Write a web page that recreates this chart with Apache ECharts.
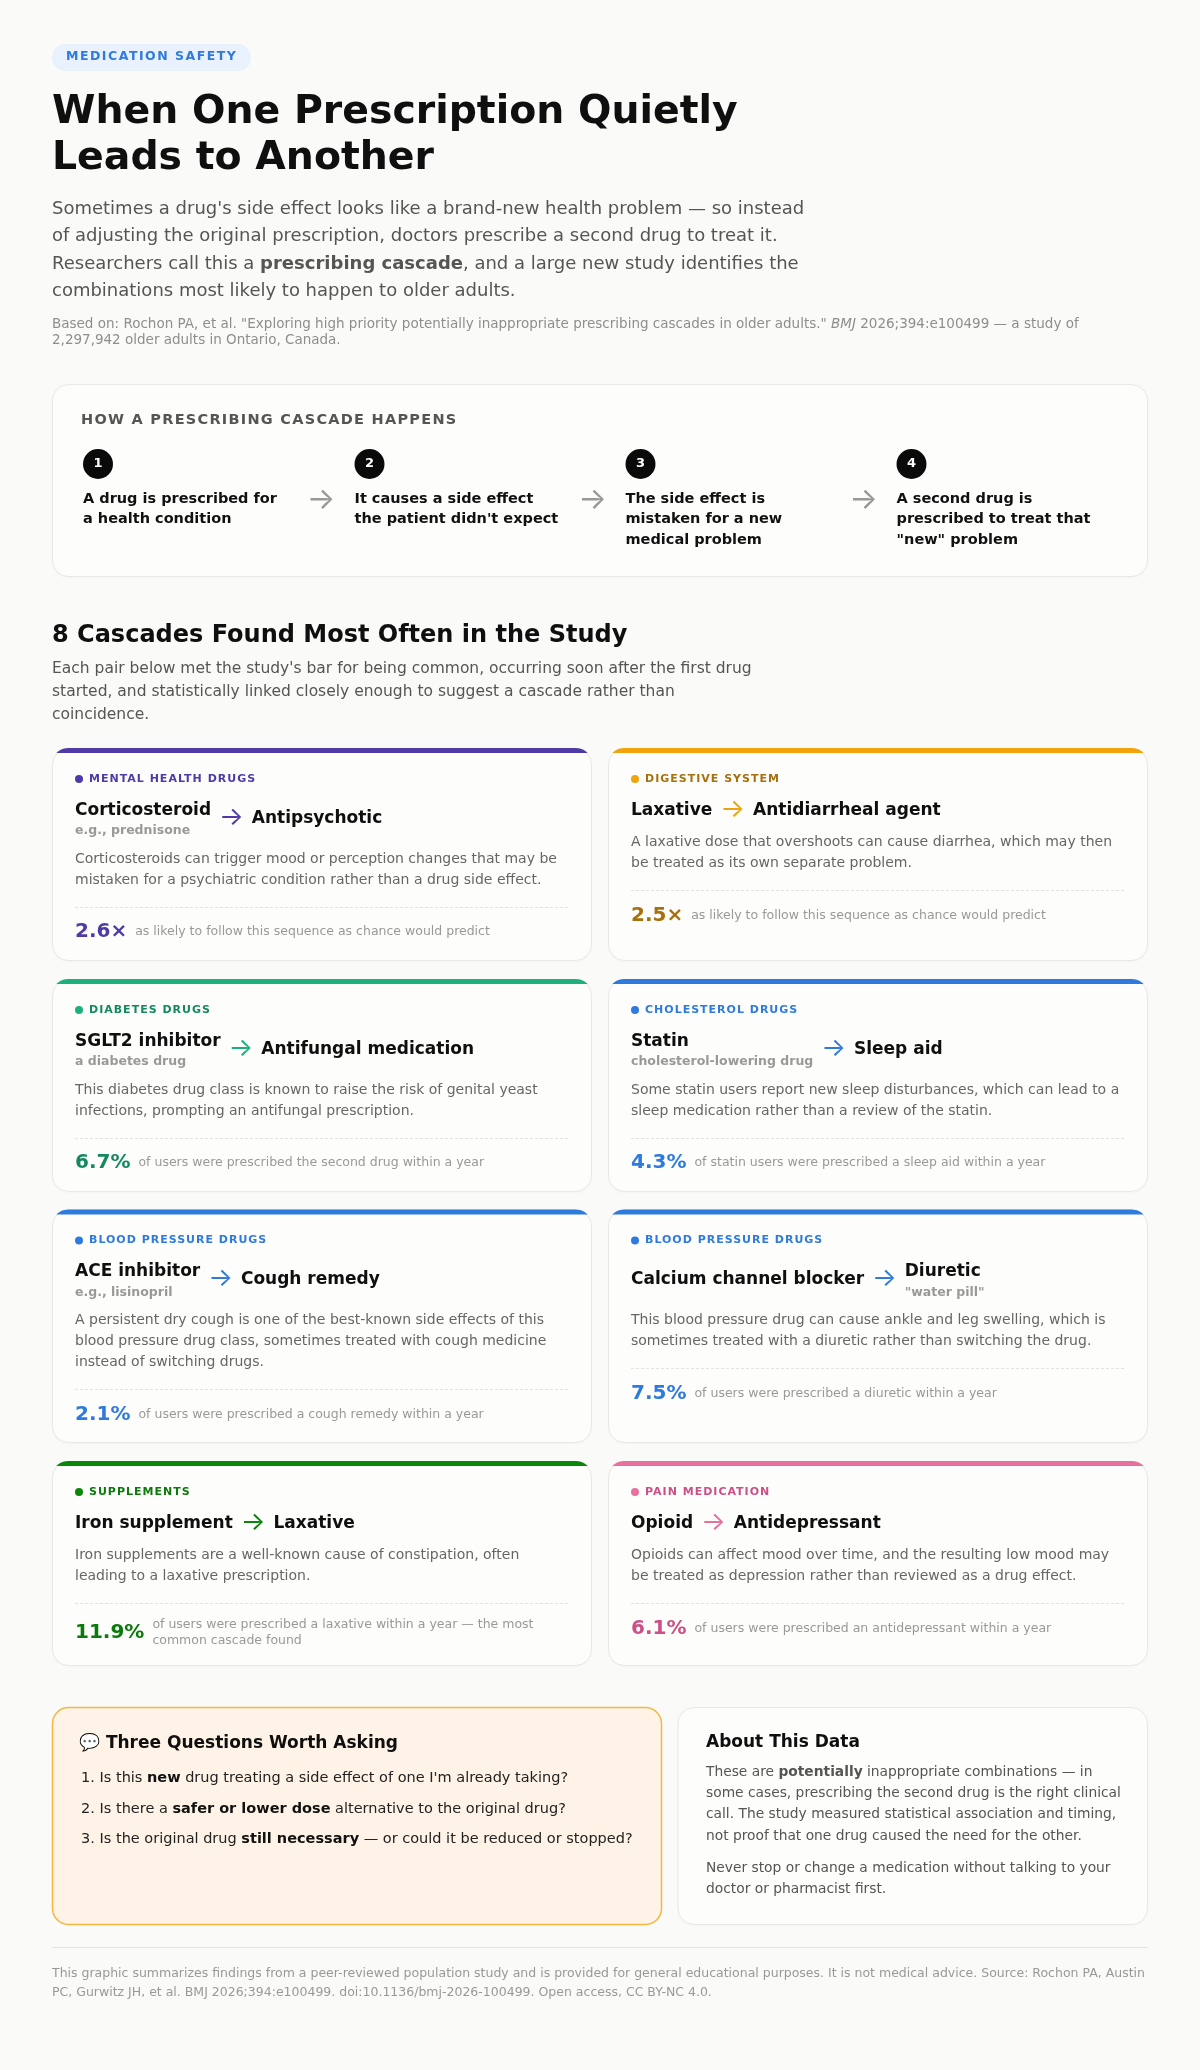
<!DOCTYPE html>
<html><head><meta charset="utf-8">
<style>html,body{margin:0;padding:0;background:#fafaf8}#c{width:1200px;height:2070px}</style>
<script src="https://cdn.jsdelivr.net/npm/echarts@6/dist/echarts.min.js"></script>
</head><body><div id="c"></div>
<script>
const categories=['MENTAL HEALTH DRUGS','DIGESTIVE SYSTEM','DIABETES DRUGS','CHOLESTEROL DRUGS','BLOOD PRESSURE DRUGS','BLOOD PRESSURE DRUGS','SUPPLEMENTS','PAIN MEDICATION'];
const firstDrugs=['Corticosteroid','Laxative','SGLT2 inhibitor','Statin','ACE inhibitor','Calcium channel blocker','Iron supplement','Opioid'];
const firstNotes=['e.g., prednisone','','a diabetes drug','cholesterol-lowering drug','e.g., lisinopril','','',''];
const secondDrugs=['Antipsychotic','Antidiarrheal agent','Antifungal medication','Sleep aid','Cough remedy','Diuretic','Laxative','Antidepressant'];
const secondNotes=['','','','','','"water pill"','',''];
const descriptions=[
'Corticosteroids can trigger mood or perception changes that may be\nmistaken for a psychiatric condition rather than a drug side effect.',
'A laxative dose that overshoots can cause diarrhea, which may then\nbe treated as its own separate problem.',
'This diabetes drug class is known to raise the risk of genital yeast\ninfections, prompting an antifungal prescription.',
'Some statin users report new sleep disturbances, which can lead to a\nsleep medication rather than a review of the statin.',
'A persistent dry cough is one of the best-known side effects of this\nblood pressure drug class, sometimes treated with cough medicine\ninstead of switching drugs.',
'This blood pressure drug can cause ankle and leg swelling, which is\nsometimes treated with a diuretic rather than switching the drug.',
'Iron supplements are a well-known cause of constipation, often\nleading to a laxative prescription.',
'Opioids can affect mood over time, and the resulting low mood may\nbe treated as depression rather than reviewed as a drug effect.'];
const statValues=[2.6,2.5,6.7,4.3,2.1,7.5,11.9,6.1];
const statUnits=['×','×','%','%','%','%','%','%'];
const statLabels=['as likely to follow this sequence as chance would predict','as likely to follow this sequence as chance would predict','of users were prescribed the second drug within a year','of statin users were prescribed a sleep aid within a year','of users were prescribed a cough remedy within a year','of users were prescribed a diuretic within a year','of users were prescribed a laxative within a year — the most\ncommon cascade found','of users were prescribed an antidepressant within a year'];
const accentColors=['#4f3aa8','#f0a30a','#1db07c','#2f7bdd','#2f7bdd','#2f7bdd','#0a860a','#e8709f'];
const labelColors=['#4f3aa8','#a8700c','#14895f','#2f7bdd','#2f7bdd','#2f7bdd','#0a7a0a','#cc4f86'];
const stepTexts=['A drug is prescribed for\na health condition',"It causes a side effect\nthe patient didn't expect",'The side effect is\nmistaken for a new\nmedical problem','A second drug is\nprescribed to treat that\n"new" problem'];
const leadText="Sometimes a drug's side effect looks like a brand-new health problem — so instead\nof adjusting the original prescription, doctors prescribe a second drug to treat it.\nResearchers call this a {b|prescribing cascade}, and a large new study identifies the\ncombinations most likely to happen to older adults.";
const sourceText='Based on: Rochon PA, et al. "Exploring high priority potentially inappropriate prescribing cascades in older adults." {i|BMJ} 2026;394:e100499 — a study of\n2,297,942 older adults in Ontario, Canada.';
const sectionSub="Each pair below met the study's bar for being common, occurring soon after the first drug\nstarted, and statistically linked closely enough to suggest a cascade rather than\ncoincidence.";
const questions=["Is this {b|new} drug treating a side effect of one I'm already taking?",'Is there a {b|safer or lower dose} alternative to the original drug?','Is the original drug {b|still necessary} — or could it be reduced or stopped?'];
const aboutText='These are {b|potentially} inappropriate combinations — in\nsome cases, prescribing the second drug is the right clinical\ncall. The study measured statistical association and timing,\nnot proof that one drug caused the need for the other.';
const aboutText2='Never stop or change a medication without talking to your\ndoctor or pharmacist first.';
const footerText='This graphic summarizes findings from a peer-reviewed population study and is provided for general educational purposes. It is not medical advice. Source: Rochon PA, Austin\nPC, Gurwitz JH, et al. BMJ 2026;394:e100499. doi:10.1136/bmj-2026-100499. Open access, CC BY-NC 4.0.';

const FF='"DejaVu Sans"';
const spaced={'MEDICATION SAFETY':'1.5px','HOW A PRESCRIBING CASCADE HAPPENS':'1.26px'};
categories.forEach(c=>spaced[c]='1px');
const _ft=CanvasRenderingContext2D.prototype.fillText;
CanvasRenderingContext2D.prototype.fillText=function(t,x,y,m){
  if(spaced[t]){this.letterSpacing=spaced[t];_ft.call(this,t,x,y);this.letterSpacing='0px';}
  else if(m===undefined)_ft.call(this,t,x,y);else _ft.call(this,t,x,y,m);
};
const mctx=document.createElement('canvas').getContext('2d');
const W=(t,size,weight)=>{mctx.font=(weight||'normal')+' '+size+'px '+FF;return mctx.measureText(t).width;};

const els=[];
function T(x,y,text,size,weight,fill,extra){
  els.push({type:'text',x,y,silent:true,style:Object.assign({text,fontSize:size,fontWeight:weight||'normal',fontFamily:FF,fill,align:'left',verticalAlign:'middle'},extra||{})});
}
function P(x,y,text,size,weight,fill,lh,rich){
  const st={text,fontSize:size,fontWeight:weight||'normal',fontFamily:FF,fill,align:'left',verticalAlign:'top',lineHeight:lh};
  if(rich)st.rich=rich;
  els.push({type:'text',x,y:y-lh/2,silent:true,style:st});
}
function arrow(cx,cy,size,fill){
  els.push({type:'text',silent:true,x:cx,y:cy,style:{text:'→',fontSize:size,fontFamily:'Inter',fill,align:'center',verticalAlign:'middle'}});
}
function card(x,y,w,h,fill,stroke,lw,shadow){
  const s={fill,stroke,lineWidth:lw||1};
  if(shadow){s.shadowBlur=3;s.shadowColor='rgba(0,0,0,0.025)';s.shadowOffsetY=1;}
  els.push({type:'rect',silent:true,shape:{x:x+.5,y:y+.5,width:w-1,height:h-1,r:16},style:s});
}
// header
els.push({type:'rect',silent:true,shape:{x:52,y:44,width:199,height:27,r:13.5},style:{fill:'#e8f1fc'}});
T(66,57,'MEDICATION SAFETY',12.5,'bold','#2f7bdd');
P(52,113,'When One Prescription Quietly\nLeads to Another',39.4,'bold','#0f0f0f',46);
P(52,209,leadText,18,'normal','#555552',27.6,{b:{fontSize:18,fontWeight:'bold',fontFamily:FF,fill:'#555552'}});
P(52,324,sourceText,13.5,'normal','#8e8e8a',16,{i:{fontSize:13.5,fontStyle:'italic',fontFamily:FF,fill:'#8e8e8a'}});
// process
card(52,384,1096,193,'#fdfdfb','#e9e8e4',1,true);
T(81,420.5,'HOW A PRESCRIBING CASCADE HAPPENS',14.5,'bold','#555552');
const stepX=[83,354.5,625.5,896.5];
stepTexts.forEach((s,i)=>{
  els.push({type:'circle',silent:true,shape:{cx:stepX[i]+15,cy:464,r:15},style:{fill:'#0a0a0a'}});
  els.push({type:'text',silent:true,x:stepX[i]+15,y:464,style:{text:String(i+1),fontSize:13,fontWeight:'bold',fontFamily:FF,fill:'#fff',align:'center',verticalAlign:'middle'}});
  P(stepX[i],499,s,14.5,'bold','#111',20.5);
  if(i<3)arrow(stepX[i]+238,500,30,'#999996');
});
// section
T(52,636,'8 Cascades Found Most Often in the Study',24,'bold','#0f0f0f');
P(52,668.5,sectionSub,15.5,'normal','#555552',23.4);
// cards
const rowTops=[748,979,1209.5,1461],rowH=[213,213,233.5,205],colX=[52,608];const cw=540;
function strip(x,y,w,c){
  const r=16,pts=[],ins=d=>r-Math.sqrt(r*r-(r-d)*(r-d));
  for(let d=5;d>=0;d-=.5)pts.push([x+ins(d),y+d]);
  for(let d=0;d<=5;d+=.5)pts.push([x+w-ins(d),y+d]);
  els.push({type:'polygon',silent:true,shape:{points:pts},style:{fill:c}});
}
categories.forEach((cat,i)=>{
  const x=colX[i%2],row=Math.floor(i/2),t=rowTops[row],c=accentColors[i],lc=labelColors[i];
  card(x,t,cw,rowH[row],'#fdfdfb','#e9e8e4',1,true);
  strip(x,t,cw,c);
  const cx=x+23;
  els.push({type:'circle',silent:true,shape:{cx:cx+4,cy:t+31,r:4},style:{fill:c}});
  T(cx+14,t+31,cat,11,'bold',lc);
  const a=firstDrugs[i],an=firstNotes[i],b=secondDrugs[i],bn=secondNotes[i];
  const hasNote=!!(an||bn);
  const fs=17,ns=12.5;
  const mid=hasNote?t+70.5:t+62.5;
  const wa=Math.max(W(a,fs,'bold'),an?W(an,ns,'bold'):0);
  if(an){T(cx,t+62.5,a,fs,'bold','#0f0f0f');T(cx,t+83,an,ns,'bold','#999996');}
  else T(cx,mid,a,fs,'bold','#0f0f0f');
  arrow(cx+wa+20.4,(hasNote?t+69:t+61),26,c);
  const bx=cx+wa+40.7;
  if(bn){T(bx,t+62.5,b,fs,'bold','#0f0f0f');T(bx,t+83,bn,ns,'bold','#999996');}
  else T(bx,mid,b,fs,'bold','#0f0f0f');
  const dy=hasNote?t+111:t+94.5;
  const n=descriptions[i].split('\n').length;
  P(cx,dy,descriptions[i],14,'normal','#666663',21);
  const div=dy+(n-1)*21+26.5;
  els.push({type:'line',silent:true,shape:{x1:cx,y1:Math.round(div)+.5,x2:cx+494,y2:Math.round(div)+.5},style:{stroke:'#e2e2de',lineWidth:1,lineDash:[3,2]}});
  const two=statLabels[i].includes('\n');
  const sy=div+(two?29.5:25.5);
  const numTxt=statValues[i].toFixed(1)+statUnits[i];
  T(cx,sy,numTxt,20,'bold',lc);
  const lx=cx+W(numTxt,20,'bold')+8;
  if(two)P(lx,sy-8,statLabels[i],12.5,'normal','#999996',16);
  else T(lx,sy,statLabels[i],12.5,'normal','#999996');
});
// questions
card(52,1707,610,218,'#fef3e6','#f5b642',1.5,false);
T(79,1744,'💬 Three Questions Worth Asking',17,'bold','#0f0f0f');
const qY=[1778,1809,1839];
const qRich={b:{fontSize:14.5,fontWeight:'bold',fontFamily:FF,fill:'#111'}};
questions.forEach((q,i)=>{
  T(81,qY[i],(i+1)+'.',14.5,'normal','#222');
  T(99.5,qY[i],q,14.5,'normal','#222',{rich:qRich});
});
card(677.5,1707,470.5,218,'#fdfdfb','#e9e8e4',1,true);
T(706,1743,'About This Data',17,'bold','#0f0f0f');
P(706,1772.3,aboutText,13.8,'normal','#555552',21.3,{b:{fontSize:13.8,fontWeight:'bold',fontFamily:FF,fill:'#555552'}});
P(706,1868.3,aboutText2,13.8,'normal','#555552',21.2);
els.push({type:'line',silent:true,shape:{x1:52,y1:1947.5,x2:1148,y2:1947.5},style:{stroke:'#e4e4e0',lineWidth:1}});
P(52,1973.7,footerText,12.5,'normal','#999996',19);

const chart=echarts.init(document.getElementById('c'),null,{renderer:'canvas',width:1200,height:2070});
chart.setOption({animation:false,backgroundColor:'#fafaf8',graphic:{elements:els}});
</script></body></html>
